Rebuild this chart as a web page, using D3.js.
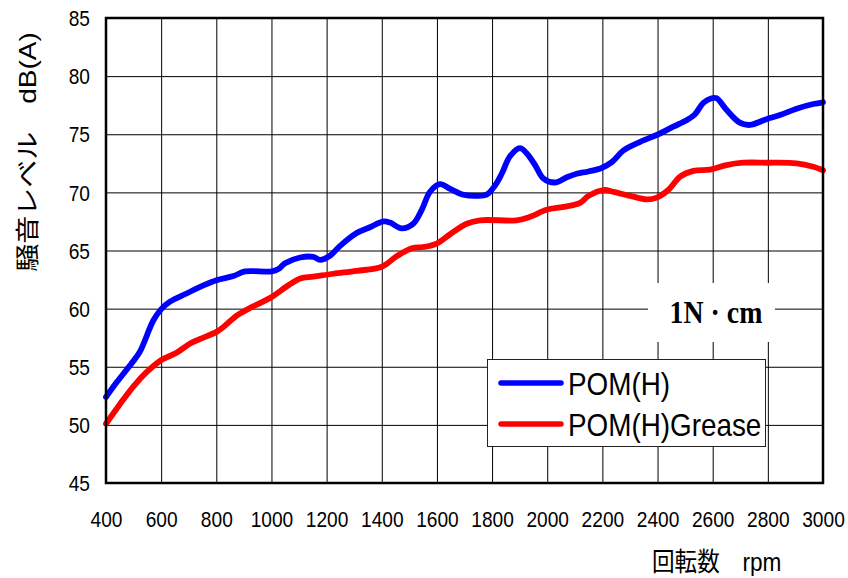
<!DOCTYPE html>
<html lang="ja">
	<head>
		<meta charset="utf-8">
		<title>POM(H) noise level</title>
		<script type="text/javascript" src="https://cdn.jsdelivr.net/npm/d3@7/dist/d3.min.js"></script>
		<style type="text/css">
			body{
				margin:0;
				background-color:white;
			}
			text{
				font-family:"Liberation Sans", Arial, "Noto Sans CJK JP", sans-serif;
				fill:black;
			}
			.grid line{
				stroke:black;
				stroke-width:1;
			}
			.grid path{
				stroke:none;
			}
		</style>
	</head>
	<body>
	<script type="text/javascript">
	// readings
	var rpmTicks = [400,600,800,1000,1200,1400,1600,1800,2000,2200,2400,2600,2800,3000];
	var dbTicks = [45,50,55,60,65,70,75,80,85];

	var seriesNames = ['POM(H)','POM(H)Grease'];

	var rpmA = [400,440,493,523,572,602,632,692,753,801,862,904,1001,1025,1049,1104,1152,1176,1212,1249,1309,1357,1406,1430,1472,1514,1545,1575,1611,1648,1696,1744,1780,1811,1835,1865,1901,1926,1956,1986,2028,2071,2107,2150,2197,2234,2276,2337,2403,2457,2505,2535,2566,2596,2614,2650,2698,2735,2795,2844,2904,2965,3000];
	var pomH = [52.4,53.7,55.3,56.3,59.0,60.0,60.6,61.3,62.0,62.45,62.8,63.2,63.2,63.4,63.9,64.4,64.45,64.2,64.55,65.4,66.5,67.0,67.5,67.4,66.9,67.3,68.5,70.05,70.7,70.3,69.8,69.7,69.8,70.6,71.6,73.1,73.8,73.35,72.35,71.2,70.85,71.3,71.6,71.8,72.1,72.6,73.6,74.35,75.0,75.65,76.2,76.7,77.7,78.1,78.1,77.1,76.0,75.8,76.3,76.65,77.2,77.6,77.75];

	var rpmB = [400,451,499,548,602,656,705,753,801,825,874,934,1001,1055,1104,1152,1224,1309,1400,1454,1509,1551,1599,1648,1708,1756,1889,1938,1998,2059,2119,2150,2204,2240,2301,2361,2397,2439,2482,2530,2590,2650,2711,2795,2904,2965,3000];
	var pomHGrease = [50.1,51.8,53.3,54.55,55.6,56.2,57.0,57.5,58.0,58.4,59.4,60.2,61.0,61.9,62.6,62.75,63.0,63.25,63.6,64.5,65.2,65.3,65.6,66.4,67.3,67.6,67.6,67.9,68.5,68.75,69.1,69.7,70.2,70.05,69.7,69.4,69.55,70.2,71.35,71.85,71.95,72.35,72.55,72.55,72.5,72.2,71.9];

	var colors = ['#0000ff','#ff0000'];

	var width = 848, height = 578;
	var plot = {left:106, right:823, top:18, bottom:483};
	var sx = 0.87; // the picture is squeezed sideways

	var svg = d3.select('body')
				.append('svg')
				.attr('width', width)
				.attr('height', height);

	var x = d3.scaleLinear()
			.domain([400,3000])
			.range([plot.left, plot.right]);
	var y = d3.scaleLinear()
			.domain([45,85])
			.range([plot.bottom, plot.top]);

	// horizontal grid + y labels
	var yAxis = svg.append('g')
				.attr('class','grid')
				.attr('transform','translate(' + plot.left + ',0)')
				.call(d3.axisLeft(y)
					.tickValues(dbTicks)
					.tickSizeInner(-(plot.right - plot.left))
					.tickSizeOuter(0)
					.tickPadding(0));
	yAxis.selectAll('text')
		.attr('x', -16/sx)
		.attr('dy','0.35em')
		.attr('transform','scale(' + sx + ',1)')
		.style('font-size','22px');

	// vertical grid + x labels
	var xAxis = svg.append('g')
				.attr('class','grid')
				.attr('transform','translate(0,' + plot.bottom + ')')
				.call(d3.axisBottom(x)
					.tickValues(rpmTicks)
					.tickFormat(d3.format('d'))
					.tickSizeInner(-(plot.bottom - plot.top))
					.tickSizeOuter(0)
					.tickPadding(0));
	xAxis.selectAll('text')
		.attr('y', 28)
		.attr('transform','scale(' + sx + ',1)')
		.style('font-size','22px');
	svg.selectAll('.grid text').attr('font-family', null);

	// curves
	var line = d3.line()
				.x(function(d) { return x(d[0]); })
				.y(function(d) { return y(d[1]); })
				.curve(d3.curveCatmullRom.alpha(0.5));

	var series = [d3.zip(rpmA, pomH), d3.zip(rpmB, pomHGrease)];

	svg.selectAll('.curve')
		.data(series)
		.enter().append('path')
		.attr('class','curve')
		.attr('d', line)
		.attr('fill','none')
		.attr('stroke', function(d, i) { return colors[i]; })
		.attr('stroke-width', 5.8)
		.attr('stroke-linejoin','round')
		.attr('stroke-linecap','round');

	// frame
	svg.append('rect')
		.attr('x', plot.left)
		.attr('y', plot.top)
		.attr('width', plot.right - plot.left)
		.attr('height', plot.bottom - plot.top)
		.attr('fill','none')
		.attr('stroke','black')
		.attr('stroke-width',2.5);

	// load label with white box
	svg.append('rect')
		.attr('x',648).attr('y',283)
		.attr('width',127).attr('height',59)
		.attr('fill','white');
	svg.append('text')
		.attr('transform','translate(716,323) scale(' + sx + ',1)')
		.attr('text-anchor','middle')
		.style('font-family','"Liberation Serif", "Times New Roman", serif')
		.style('font-weight','bold')
		.style('font-size','32px')
		.text('1N · cm');

	// legend
	var legend = svg.append('g');
	legend.append('rect')
		.attr('x',487.5).attr('y',359.5)
		.attr('width',278).attr('height',87)
		.attr('fill','white')
		.attr('stroke','#222')
		.attr('stroke-width',1);
	var items = legend.selectAll('.item')
				.data(seriesNames)
				.enter().append('g')
				.attr('class','item')
				.attr('transform', function(d, i) { return 'translate(0,' + (383 + i*41) + ')'; });
	items.append('line')
		.attr('x1',501).attr('x2',561)
		.attr('stroke', function(d, i) { return colors[i]; })
		.attr('stroke-width',5.5)
		.attr('stroke-linecap','round');
	items.append('text')
		.attr('transform','translate(568,12) scale(' + sx + ',1)')
		.style('font-size','32px')
		.text(function(d) { return d; });

	// axis titles
	svg.append('text')
		.attr('transform','translate(27,152) scale(' + sx + ',1) rotate(-90)')
		.attr('text-anchor','middle')
		.attr('dy','0.36em')
		.style('font-size','28px')
		.text('騒音レベル　dB(A)');

	svg.append('text')
		.attr('transform','translate(652,571) scale(' + sx + ',1)')
		.style('font-size','26px')
		.text('回転数　rpm');

		</script>
	</body>
</html>
